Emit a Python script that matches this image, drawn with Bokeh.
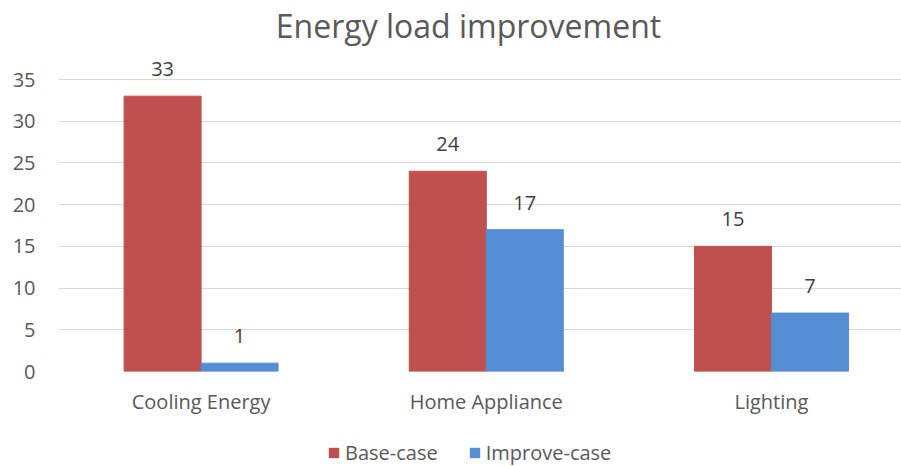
from bokeh.plotting import figure
from bokeh.layouts import column
from bokeh.models import (ColumnDataSource, LabelSet, Label, Legend, LegendItem,
                          FixedTicker, Range1d)
from bokeh.core.properties import value
from bokeh.embed import file_html
from bokeh.resources import INLINE

title_text = "Energy load improvement"
categories = ["Cooling Energy", "Home Appliance", "Lighting"]
base_case = [33, 24, 15]
improve_case = [1, 17, 7]
series_names = ["Base-case", "Improve-case"]
y_ticks = [0, 5, 10, 15, 20, 25, 30, 35]

FONT = "Open Sans"
RED = "#C0504D"
BLUE = "#558ED5"
BAR_W = 0.27

centers = [i + 0.5 for i in range(len(categories))]
src_base = ColumnDataSource(dict(x=[c - BAR_W / 2 for c in centers], y=base_case,
                                 label=[str(v) for v in base_case]))
src_imp = ColumnDataSource(dict(x=[c + BAR_W / 2 for c in centers], y=improve_case,
                                label=[str(v) for v in improve_case]))

p = figure(width=901, height=432, output_backend="svg", toolbar_location=None,
           x_range=Range1d(0, 2.956), y_range=Range1d(0, 44.47),
           min_border_left=58, min_border_right=0, min_border_top=0, min_border_bottom=61)
p.outline_line_color = None

p.vbar(x="x", top="y", width=BAR_W, source=src_base, fill_color=RED, line_color=RED)
p.vbar(x="x", top="y", width=BAR_W, source=src_imp, fill_color=BLUE, line_color=BLUE)

for src in (src_base, src_imp):
    p.add_layout(LabelSet(x="x", y="y", text="label", source=src, text_align="center",
                          text_baseline="alphabetic", y_offset=20, text_font=value(FONT),
                          text_font_size="20px", text_color="#404040"))

p.add_layout(Label(x=410, y=346, x_units="screen", y_units="screen", text=title_text,
                   text_align="center", text_baseline="alphabetic", text_font=FONT,
                   text_font_size="32px", text_color="#595959"))

p.xgrid.grid_line_color = None
p.ygrid.grid_line_color = "#D9D9D9"
p.ygrid.grid_line_width = 1
p.yaxis.ticker = FixedTicker(ticks=y_ticks)
p.xaxis.ticker = FixedTicker(ticks=centers)
p.xaxis.major_label_overrides = {c: n for c, n in zip(centers, categories)}
for ax in (p.xaxis[0], p.yaxis[0]):
    ax.axis_line_color = None
    ax.major_tick_line_color = None
    ax.minor_tick_line_color = None
    ax.major_tick_out = 0
    ax.major_tick_in = 0
    ax.minor_tick_out = 0
    ax.major_label_text_font = FONT
    ax.major_label_text_font_size = "20px"
    ax.major_label_text_color = "#595959"
p.yaxis.major_label_standoff = 23
p.xaxis.major_label_standoff = 16

# legend strip (bars drawn out of view, only the legend shows)
pl = figure(width=901, height=34, output_backend="svg", toolbar_location=None,
            x_range=Range1d(-10, -7.044), y_range=Range1d(-2, -1),
            x_axis_type=None, y_axis_type=None,
            min_border_left=58, min_border_right=0, min_border_top=0, min_border_bottom=0)
pl.outline_line_color = None
pl.xgrid.visible = False
pl.ygrid.visible = False
lr1 = pl.vbar(x="x", top="y", width=BAR_W, source=src_base, fill_color=RED, line_color=None)
lr2 = pl.vbar(x="x", top="y", width=BAR_W, source=src_imp, fill_color=BLUE, line_color=None)
legend = Legend(items=[LegendItem(label=series_names[0], renderers=[lr1]),
                       LegendItem(label=series_names[1], renderers=[lr2])],
                orientation="horizontal", location=(269, 0), padding=0, margin=0,
                glyph_width=13, glyph_height=13, spacing=30, label_standoff=5,
                label_text_font=FONT, label_text_font_size="20px", label_text_color="#595959",
                border_line_color=None, background_fill_alpha=0)
pl.add_layout(legend)

open("out.html", "w").write(file_html(column(p, pl, spacing=0), INLINE))
